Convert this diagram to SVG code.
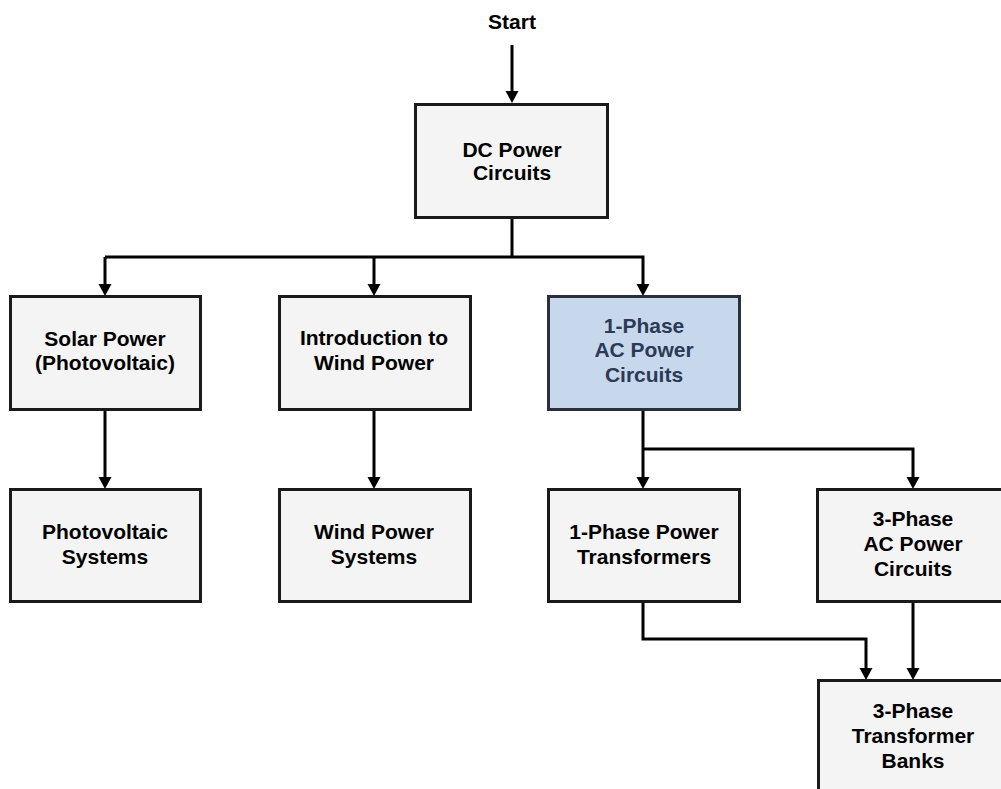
<svg xmlns="http://www.w3.org/2000/svg" width="1001" height="789" viewBox="0 0 1001 789">
<style>
  .box { fill: #f4f4f4; stroke: #1a1a1a; stroke-width: 3; }
  .hl { fill: #c7d7ec; stroke: #2a2f3a; stroke-width: 3; }
  .t { font-family: "Liberation Sans", Arial, sans-serif; font-weight: bold; font-size: 21px; fill: #000; text-anchor: middle; }
  .th { fill: #2b3a55; }
  .c { fill: none; stroke: #000; stroke-width: 3; marker-end: url(#ah); }
  .cn { fill: none; stroke: #000; stroke-width: 3; }
</style>
<defs>
  <marker id="ah" markerUnits="userSpaceOnUse" viewBox="0 -7 12 14" refX="0" refY="0" markerWidth="12" markerHeight="14" orient="auto">
    <path d="M0,-6.5 L12,0 L0,6.5 z" fill="#000"/>
  </marker>
</defs>
<rect width="1001" height="789" fill="#ffffff"/>
<g id="connectors">
  <path class="c" d="M512,45 V91"/>
  <path class="cn" d="M512,219 V257"/>
  <path class="c" d="M105,257 H643 V284"/>
  <path class="c" d="M105,257 V284"/>
  <path class="c" d="M374,257 V284"/>
  <path class="c" d="M105,411 V477"/>
  <path class="c" d="M374,411 V477"/>
  <path class="c" d="M643,411 V477"/>
  <path class="c" d="M643,449 H913 V477"/>
  <path class="c" d="M643,603 V639 H866 V668"/>
  <path class="c" d="M913,603 V668"/>
</g>
<g id="start">
  <text class="t" x="512" y="29">Start</text>
</g>
<g id="dc-power">
  <rect class="box" x="415.5" y="104.5" width="192" height="113"/>
  <text class="t" x="512" y="157">DC Power</text>
  <text class="t" x="512" y="180">Circuits</text>
</g>
<g id="solar">
  <rect class="box" x="10.5" y="296.5" width="190" height="113"/>
  <text class="t" x="105" y="346">Solar Power</text>
  <text class="t" x="105" y="370">(Photovoltaic)</text>
</g>
<g id="wind-intro">
  <rect class="box" x="279.5" y="296.5" width="191" height="113"/>
  <text class="t" x="374" y="345">Introduction to</text>
  <text class="t" x="374" y="370">Wind Power</text>
</g>
<g id="ac1">
  <rect class="hl" x="548.5" y="296.5" width="191" height="113"/>
  <text class="t th" x="644" y="333">1-Phase</text>
  <text class="t th" x="644" y="357">AC Power</text>
  <text class="t th" x="644" y="382">Circuits</text>
</g>
<g id="pv-systems">
  <rect class="box" x="10.5" y="489.5" width="190" height="112"/>
  <text class="t" x="105" y="539">Photovoltaic</text>
  <text class="t" x="105" y="564">Systems</text>
</g>
<g id="wind-systems">
  <rect class="box" x="279.5" y="489.5" width="191" height="112"/>
  <text class="t" x="374" y="539">Wind Power</text>
  <text class="t" x="374" y="564">Systems</text>
</g>
<g id="transformers1">
  <rect class="box" x="548.5" y="489.5" width="191" height="112"/>
  <text class="t" x="644" y="539">1-Phase Power</text>
  <text class="t" x="644" y="564">Transformers</text>
</g>
<g id="ac3">
  <rect class="box" x="817.5" y="489.5" width="192" height="112"/>
  <text class="t" x="913" y="526">3-Phase</text>
  <text class="t" x="913" y="551">AC Power</text>
  <text class="t" x="913" y="576">Circuits</text>
</g>
<g id="banks">
  <rect class="box" x="818.5" y="680.5" width="192" height="113"/>
  <text class="t" x="913" y="718">3-Phase</text>
  <text class="t" x="913" y="743">Transformer</text>
  <text class="t" x="913" y="768">Banks</text>
</g>
</svg>
